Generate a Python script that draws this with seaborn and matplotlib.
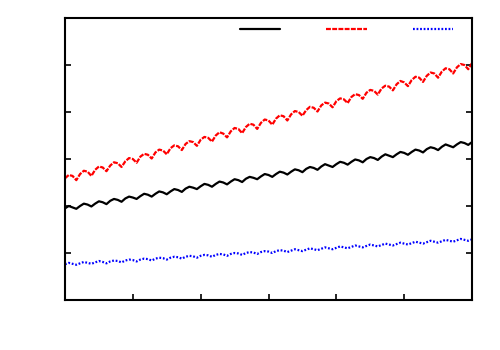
import numpy as np
import pandas as pd
import matplotlib
matplotlib.use("Agg")
import matplotlib.pyplot as plt
import seaborn as sns

# sample index (time steps)
t = list(range(109))

series_black = [
    1.95, 2.00, 1.97,
    1.94, 2.00, 2.05, 2.03,
    1.99, 2.05, 2.10, 2.08,
    2.04, 2.11, 2.15, 2.13,
    2.09, 2.16, 2.20, 2.18,
    2.15, 2.21, 2.26, 2.24,
    2.20, 2.26, 2.31, 2.29,
    2.25, 2.31, 2.36, 2.34,
    2.30, 2.37, 2.41, 2.39,
    2.36, 2.42, 2.47, 2.45,
    2.41, 2.47, 2.52, 2.50,
    2.46, 2.52, 2.57, 2.55,
    2.51, 2.58, 2.62, 2.60,
    2.57, 2.63, 2.68, 2.66,
    2.62, 2.68, 2.73, 2.71,
    2.67, 2.73, 2.78, 2.76,
    2.72, 2.79, 2.83, 2.81,
    2.77, 2.84, 2.89, 2.86,
    2.83, 2.89, 2.94, 2.92,
    2.88, 2.94, 2.99, 2.97,
    2.93, 3.00, 3.04, 3.02,
    2.98, 3.05, 3.10, 3.07,
    3.04, 3.10, 3.15, 3.13,
    3.09, 3.15, 3.20, 3.18,
    3.14, 3.21, 3.25, 3.23,
    3.19, 3.26, 3.31, 3.28,
    3.25, 3.31, 3.36, 3.34,
    3.30, 3.36,
]

series_red = [
    2.59, 2.66, 2.64,
    2.55, 2.68, 2.75, 2.73,
    2.64, 2.77, 2.84, 2.82,
    2.74, 2.86, 2.93, 2.91,
    2.83, 2.95, 3.02, 3.00,
    2.92, 3.05, 3.11, 3.09,
    3.01, 3.14, 3.20, 3.18,
    3.10, 3.23, 3.29, 3.27,
    3.19, 3.32, 3.38, 3.36,
    3.28, 3.41, 3.47, 3.45,
    3.37, 3.50, 3.57, 3.54,
    3.46, 3.59, 3.66, 3.64,
    3.55, 3.68, 3.75, 3.73,
    3.64, 3.77, 3.84, 3.82,
    3.73, 3.86, 3.93, 3.91,
    3.82, 3.95, 4.02, 4.00,
    3.92, 4.04, 4.11, 4.09,
    4.01, 4.14, 4.20, 4.18,
    4.10, 4.23, 4.29, 4.27,
    4.19, 4.32, 4.38, 4.36,
    4.28, 4.41, 4.47, 4.45,
    4.37, 4.50, 4.56, 4.54,
    4.46, 4.59, 4.66, 4.63,
    4.55, 4.68, 4.75, 4.73,
    4.64, 4.77, 4.84, 4.82,
    4.73, 4.86, 4.93, 4.91,
    4.82, 4.95, 5.02, 5.00,
    4.91, 5.04,
]

series_blue = [
    0.76, 0.79, 0.77,
    0.75, 0.78, 0.81, 0.79,
    0.77, 0.80, 0.83, 0.81,
    0.78, 0.82, 0.84, 0.83,
    0.80, 0.84, 0.86, 0.85,
    0.82, 0.86, 0.88, 0.87,
    0.84, 0.88, 0.90, 0.89,
    0.86, 0.90, 0.92, 0.91,
    0.88, 0.92, 0.94, 0.93,
    0.90, 0.94, 0.96, 0.95,
    0.92, 0.96, 0.98, 0.97,
    0.94, 0.98, 1.00, 0.99,
    0.96, 1.00, 1.02, 1.01,
    0.98, 1.02, 1.04, 1.03,
    1.00, 1.04, 1.06, 1.05,
    1.02, 1.05, 1.08, 1.06,
    1.04, 1.07, 1.10, 1.08,
    1.06, 1.09, 1.12, 1.10,
    1.08, 1.11, 1.14, 1.12,
    1.10, 1.13, 1.16, 1.14,
    1.12, 1.15, 1.18, 1.16,
    1.14, 1.17, 1.20, 1.18,
    1.16, 1.19, 1.22, 1.20,
    1.18, 1.21, 1.24, 1.22,
    1.20, 1.23, 1.26, 1.24,
    1.22, 1.25, 1.28, 1.26,
    1.24, 1.27, 1.30, 1.28,
    1.26, 1.29,
]

sns.set_style("white")
plt.rcParams["font.family"] = ["DejaVu Sans"]

fig = plt.figure(figsize=(5, 3.5), dpi=100)
ax = fig.add_axes([65 / 500, 50 / 350, 407 / 500, 282 / 350])

sns.lineplot(x=t, y=series_black, ax=ax, color="black", lw=1.6, label=" ")
sns.lineplot(x=t, y=series_red, ax=ax, color="red", lw=1.6, label=" ",
             linestyle=(0, (2.2, 0.6)))
sns.lineplot(x=t, y=series_blue, ax=ax, color="blue", lw=1.6, label=" ",
             linestyle=(0, (0.8, 0.8)))

ax.set_xlim(0, 108)
ax.set_ylim(0, 6)
ax.set_xticks(np.linspace(0, 108, 7))
ax.set_yticks(np.arange(0, 7))
ax.set_xticklabels([])
ax.set_yticklabels([])
ax.set_xlabel("")
ax.set_ylabel("")
ax.tick_params(axis="x", direction="in", length=4, width=1.2, bottom=True, top=False, color="black")
ax.tick_params(axis="y", direction="in", length=4, width=1.2, left=True, right=True, color="black")
for s in ax.spines.values():
    s.set_color("black")
    s.set_linewidth(1.5)
    s.set_visible(True)

leg = ax.legend(ncol=3, frameon=False, markerfirst=False,
                handlelength=2.9, handletextpad=0.2, columnspacing=2.8,
                borderpad=0, borderaxespad=0, fontsize=10,
                loc="center right",
                bbox_to_anchor=(453 / 500, 1 - 30 / 350),
                bbox_transform=fig.transFigure)

fig.savefig("out.png", dpi=100)
